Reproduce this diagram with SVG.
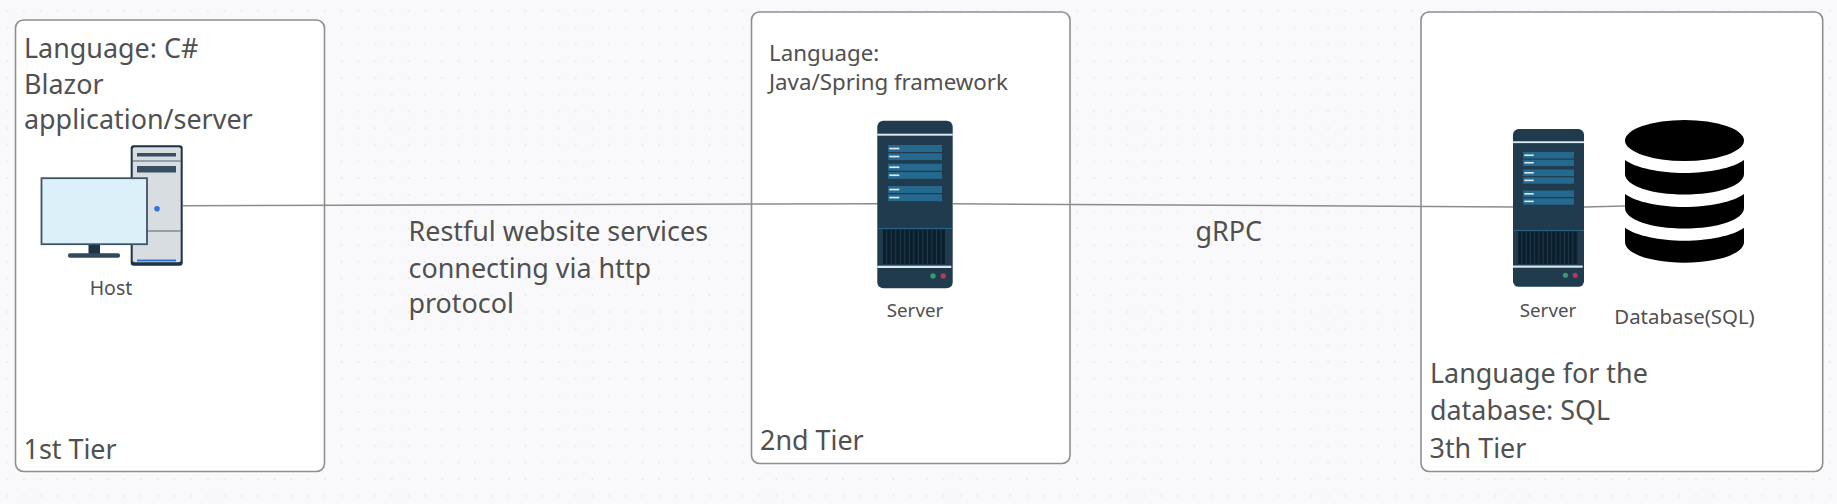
<svg xmlns="http://www.w3.org/2000/svg" width="1837" height="504" viewBox="0 0 1837 504">
<style>
.box{fill:#fff;stroke:#8f8f8f;stroke-width:1.6}
text{font-family:"Noto Sans","Open Sans",sans-serif;fill:#505050}
.t27{font-size:26.9px}
.t21{font-size:22.3px}
.t18{font-size:18.8px}
.t20{font-size:20.4px}
.conn{fill:none;stroke:#8c8c8c;stroke-width:1.5}
</style>
<defs>
<pattern id="dots" x="0" y="0" width="16.72" height="16.72" patternUnits="userSpaceOnUse"><rect x="6.4" y="10.2" width="1.7" height="1.7" fill="#e6e6eb"/></pattern>
<pattern id="vent" x="5.4" y="0" width="4.52" height="40" patternUnits="userSpaceOnUse"><rect width="3.5" height="40" fill="#0b1e2d"/></pattern>
<g id="srv">
<rect x="0" y="0" width="75.4" height="167.6" rx="6" fill="#1f3b4d"/>
<rect x="0" y="13" width="75.4" height="2" fill="#dbe8f0"/>
<g fill="#256a8e">
<rect x="10.7" y="24.3" width="54" height="7"/><rect x="10.7" y="32.6" width="54" height="6.8"/>
<rect x="10.7" y="43" width="54" height="7"/><rect x="10.7" y="51.3" width="54" height="6.8"/>
<rect x="10.7" y="65.3" width="54" height="7"/><rect x="10.7" y="73.6" width="54" height="6.8"/>
</g>
<g fill="#dbe8f0">
<rect x="12" y="27" width="10" height="1.7"/><rect x="12" y="35" width="10" height="1.7"/>
<rect x="12" y="45.7" width="10" height="1.7"/><rect x="12" y="53.7" width="10" height="1.7"/>
<rect x="12" y="68" width="10" height="1.7"/><rect x="12" y="76" width="10" height="1.7"/>
</g>
<rect x="0" y="107.2" width="75.4" height="1" fill="#2a6a8e"/>
<rect x="5.4" y="108.7" width="63.3" height="34.6" fill="url(#vent)"/>
<rect x="0" y="145" width="74" height="2.3" fill="#dbe8f0"/>
<circle cx="55.7" cy="155.3" r="2.7" fill="#2f9e6e"/>
<circle cx="66" cy="155.3" r="2.7" fill="#b53a58"/>
</g>
</defs>
<rect width="1837" height="504" fill="#f9f9fb"/>
<rect width="1837" height="504" fill="url(#dots)"/>
<g id="tier1"><rect class="box" x="15.5" y="20" width="309" height="451.5" rx="8"/>
<text class="t27" x="24" y="58">Language: C#</text>
<text class="t27" x="24" y="93.500">Blazor</text>
<text class="t27" x="24" y="129">application/server</text>
<text class="t27" x="23.500" y="459">1st Tier</text></g>
<g id="tier2"><rect class="box" x="751.5" y="12" width="318.5" height="451.5" rx="8"/>
<text class="t21" x="769" y="61">Language:</text>
<text class="t21" x="769" y="90">Java/Spring framework</text>
<text class="t27" x="760" y="450">2nd Tier</text></g>
<g id="tier3"><rect class="box" x="1421" y="12" width="401.7" height="459.5" rx="8"/>
<text class="t27" x="1430" y="383">Language for the</text>
<text class="t27" x="1430" y="419.500">database: SQL</text>
<text class="t27" x="1429.500" y="458">3th Tier</text></g>
<g id="connectors">
<path class="conn" d="M183 205.7L878 203.8"/>
<path class="conn" d="M953 203.8L1513 207"/>
<path class="conn" d="M1584 207L1625 206"/>
</g>
<g id="host">
<rect x="130.7" y="145.3" width="52" height="120.4" rx="3" fill="#1f3347"/>
<rect x="132.7" y="147.3" width="48" height="115" rx="2" fill="#d8dde1"/>
<rect x="132.7" y="160.5" width="48" height="1" fill="#4f6272"/>
<rect x="132.7" y="230.5" width="48" height="1" fill="#4f6272"/>
<rect x="137" y="153" width="39" height="3.5" fill="#3a4f63"/>
<rect x="137" y="166" width="39" height="6.5" fill="#3a4f63"/>
<rect x="137" y="259.5" width="39" height="2" fill="#2f78d8"/>
<circle cx="157" cy="208.7" r="2.8" fill="#2f78d8"/>
<rect x="88.5" y="245" width="11.5" height="9" fill="#1f3347"/>
<rect x="68" y="253.3" width="52" height="4.4" rx="2" fill="#33495c"/>
<rect x="41.5" y="178.2" width="105.5" height="66" fill="#dcf0f9" stroke="#3f5366" stroke-width="1.8"/>
<text class="t18" x="111" y="295" text-anchor="middle" style="font-size:19.5px">Host</text>
</g>
<g id="server2">
<use href="#srv" transform="translate(877.3 120.7)"/>
<text class="t18" x="915" y="317" text-anchor="middle">Server</text>
</g>
<g id="server3">
<use href="#srv" transform="translate(1513 129) scale(.9416)"/>
<text class="t18" x="1548" y="317" text-anchor="middle">Server</text>
</g>
<g id="database">
<ellipse cx="1684.5" cy="140.5" rx="59.5" ry="20.5" fill="#000"/>
<path fill="#000" d="M1625 160C1636 168 1660 173 1684.5 173S1733 168 1744 160V174C1744 186 1717 194.5 1684.5 194.5S1625 186 1625 174Z"/>
<path fill="#000" d="M1625 194C1636 202 1660 207 1684.5 207S1733 202 1744 194V208C1744 220 1717 228.500 1684.5 228.500S1625 220 1625 208Z"/>
<path fill="#000" d="M1625 227.700C1636 235.700 1660 240.700 1684.5 240.700S1733 235.700 1744 227.700V242C1744 254 1717 262.700 1684.5 262.700S1625 254 1625 242Z"/>
<text class="t20" x="1684.500" y="324" text-anchor="middle">Database(SQL)</text>
</g>
<g id="labels">
<text class="t27" x="408.500" y="241">Restful website services</text>
<text class="t27" x="408.500" y="277.500">connecting via http</text>
<text class="t27" x="408.500" y="313">protocol</text>
<text class="t27" x="1195.500" y="241">gRPC</text>
</g>
</svg>
